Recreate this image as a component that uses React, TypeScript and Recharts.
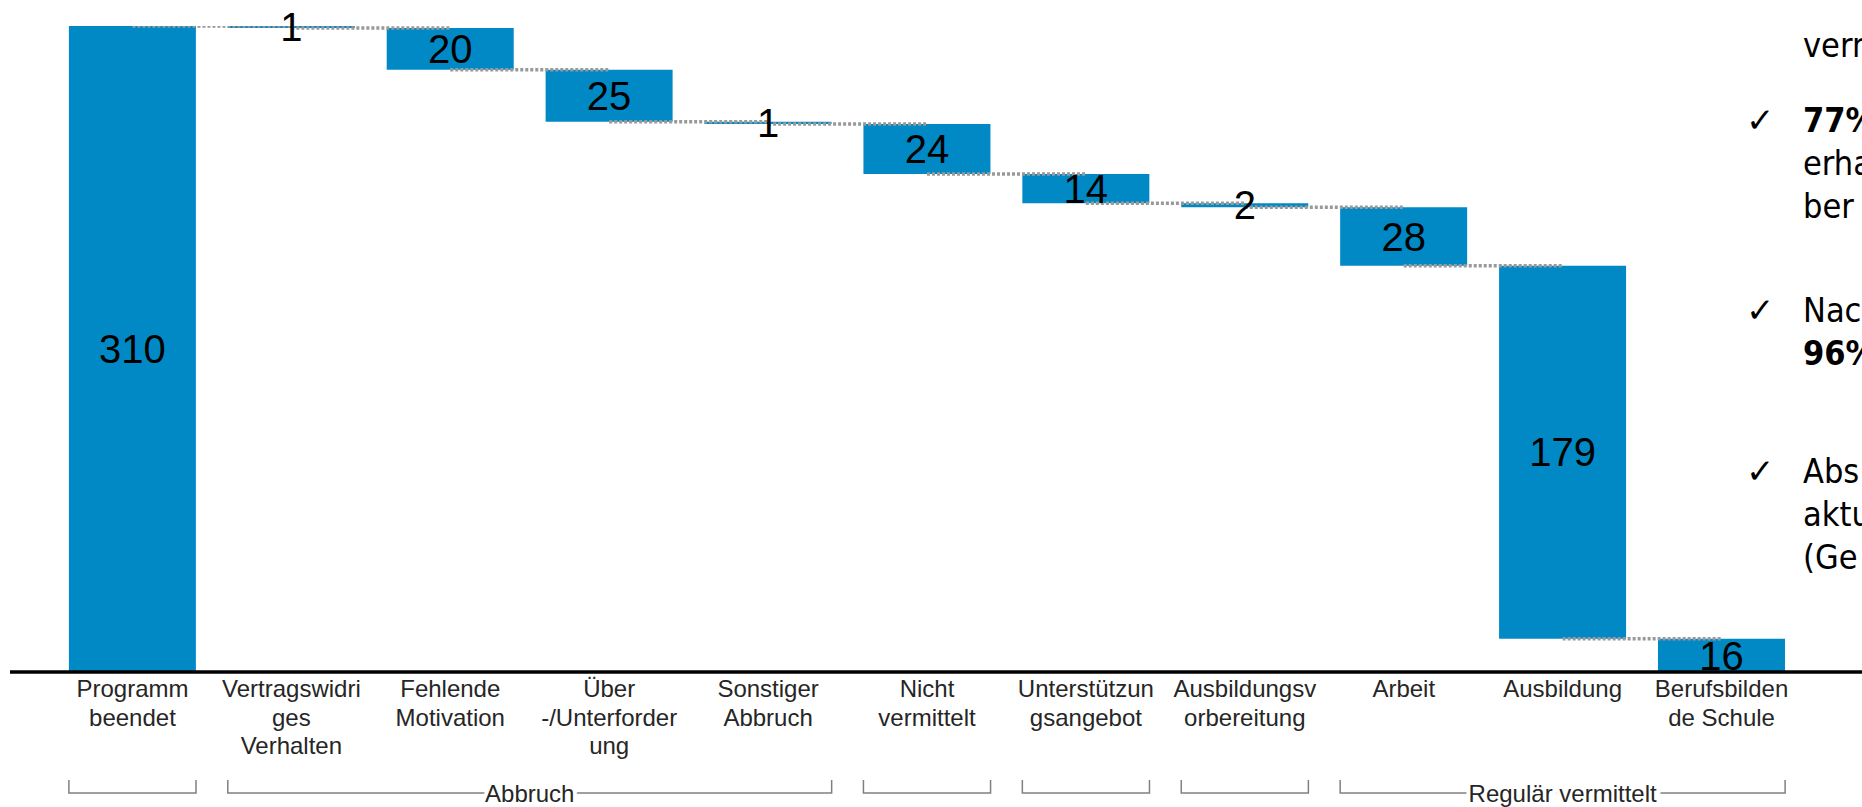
import React from "react";
import { ComposedChart, Bar, Line, XAxis, YAxis, LabelList } from "recharts";

// chart size / layout
const W = 1862;
const H = 807;
const MARGIN = { top: 26, right: 0, bottom: 0, left: 10 };
const PAD_L = 43;
const PAD_R = 61;
const AXIS_H = 135;

const BLUE = "#0189c5";

// x-axis labels, already broken into lines like on the slide
const categories: string[][] = [
  ["Programm", "beendet"],
  ["Vertragswidri", "ges", "Verhalten"],
  ["Fehlende", "Motivation"],
  ["Über", "-/Unterforder", "ung"],
  ["Sonstiger", "Abbruch"],
  ["Nicht", "vermittelt"],
  ["Unterstützun", "gsangebot"],
  ["Ausbildungsv", "orbereitung"],
  ["Arbeit"],
  ["Ausbildung"],
  ["Berufsbilden", "de Schule"],
];

// first bar is the total, the rest are drops
const values = [310, 1, 20, 25, 1, 24, 14, 2, 28, 179, 16];

const groups = [
  { label: "", from: 0, to: 0 },
  { label: "Abbruch", from: 1, to: 4 },
  { label: "", from: 5, to: 5 },
  { label: "", from: 6, to: 6 },
  { label: "", from: 7, to: 7 },
  { label: "Regulär vermittelt", from: 8, to: 10 },
];

// cut-off bullet text on the right side of the slide
const notes = [
  { check: false, top: 45, lines: [{ t: "verm", b: false }] },
  { check: true, top: 120, lines: [{ t: "77%", b: true }, { t: "erha", b: false }, { t: "ber", b: false }] },
  { check: true, top: 310, lines: [{ t: "Nac", b: false }, { t: "96%", b: true }] },
  { check: true, top: 471, lines: [{ t: "Abs", b: false }, { t: "aktu", b: false }, { t: "(Ge", b: false }] },
];

const names = categories.map((c) => c.join(" "));
const BAND = (W - MARGIN.left - PAD_L - PAD_R) / values.length;
const BAR = BAND * 0.8;

// waterfall rows
let level = 0;
const rows: any[] = values.map((v, i) => {
  if (i === 0) {
    level = v;
    return { name: names[i], base: 0, delta: v };
  }
  level = level - v;
  return { name: names[i], base: level, delta: v };
});
// dotted connectors: from centre of bar i to centre of bar i+1
rows.forEach((r, i) => {
  if (i < rows.length - 1) {
    const lvl = i === 0 ? r.base + r.delta : r.base;
    rows[i]["c" + i] = lvl;
    rows[i + 1]["c" + i] = lvl;
  }
});

const FONT = "'Liberation Sans', Arial, sans-serif";

function CatTick(props: any) {
  const { x, y, payload } = props;
  const i = names.indexOf(payload.value);
  const lines = categories[i] || [];
  const g = groups.find((gr) => gr.from === i);
  let bracket = null;
  if (g) {
    const left = x - BAR / 2;
    const right = x + (g.to - g.from) * BAND + BAR / 2;
    const y0 = y + 108;
    const y1 = y + 121;
    const cx = (left + right) / 2;
    bracket = (
      <g>
        <path d={`M${left},${y0}V${y1}H${right}V${y0}`} fill="none" stroke="#808080" strokeWidth={1.5} />
        {g.label && (
          <text
            x={cx}
            y={y1 + 8.5}
            textAnchor="middle"
            fontSize={24}
            fill="#262626"
            stroke="#fff"
            strokeWidth={8}
            paintOrder="stroke"
            fontFamily={FONT}
          >
            {g.label}
          </text>
        )}
      </g>
    );
  }
  return (
    <g>
      {lines.map((l, k) => (
        <text key={k} x={x} y={y + 25 + k * 28.5} textAnchor="middle" fontSize={24} fill="#262626" fontFamily={FONT}>
          {l}
        </text>
      ))}
      {bracket}
    </g>
  );
}

export default function App() {
  return (
    <div style={{ position: "absolute", left: 0, top: 0, width: W, height: H, overflow: "hidden", background: "#fff" }}>
      <ComposedChart width={W} height={H} data={rows} margin={MARGIN} barCategoryGap="10%">
        <XAxis
          dataKey="name"
          height={AXIS_H}
          padding={{ left: PAD_L, right: PAD_R }}
          interval={0}
          tickLine={false}
          tickSize={0}
          tickMargin={0}
          axisLine={{ stroke: "#000", strokeWidth: 3.5 }}
          tick={<CatTick />}
        />
        <YAxis hide width={0} domain={[0, values[0]]} allowDataOverflow />
        <Bar dataKey="base" stackId="w" fill="transparent" isAnimationActive={false} />
        <Bar dataKey="delta" stackId="w" fill={BLUE} isAnimationActive={false}>
          <LabelList dataKey="delta" position="center" fontSize={40} fill="#000" fontFamily={FONT} />
        </Bar>
        {rows.slice(0, -1).map((_, i) => (
          <Line
            key={i}
            dataKey={"c" + i}
            type="linear"
            stroke="#999"
            strokeWidth={3.5}
            strokeDasharray="3 2"
            dot={false}
            activeDot={false}
            connectNulls={false}
            isAnimationActive={false}
          />
        ))}
      </ComposedChart>
      {notes.map((n, k) => (
        <div key={k}>
          {n.check && (
            <div style={{ position: "absolute", left: 1746, top: n.top - 21.5, height: 43, lineHeight: "43px", fontSize: 34, fontFamily: "'DejaVu Sans', sans-serif", color: "#000" }}>
              ✓
            </div>
          )}
          {n.lines.map((l, j) => (
            <div
              key={j}
              style={{
                position: "absolute",
                left: 1803,
                top: n.top - 21.5 + j * 43,
                height: 43,
                lineHeight: "43px",
                fontSize: 34,
                fontWeight: l.b ? "bold" : "normal",
                fontFamily: "'DejaVu Sans Condensed', 'DejaVu Sans', sans-serif",
                color: "#000",
                whiteSpace: "nowrap",
              }}
            >
              {l.t}
            </div>
          ))}
        </div>
      ))}
    </div>
  );
}
